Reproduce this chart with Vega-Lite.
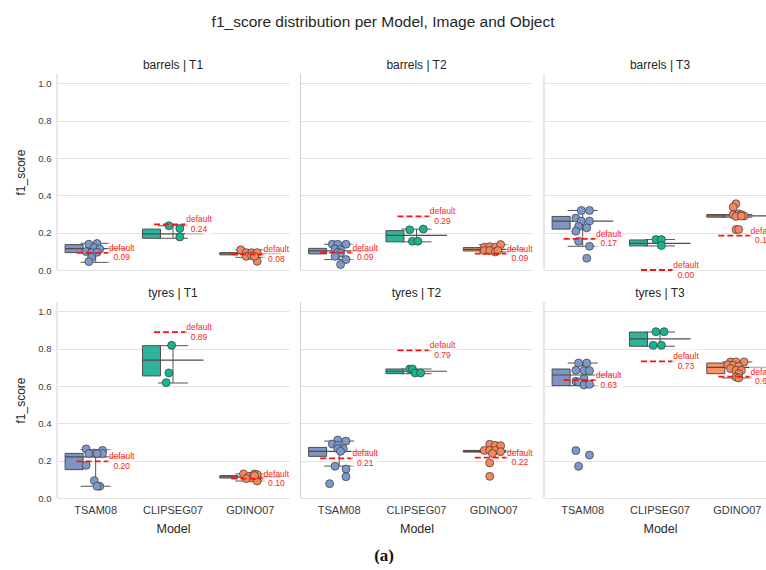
{
  "$schema": "https://vega.github.io/schema/vega-lite/v6.json",
  "padding": {"left": 14, "top": 15, "right": 0, "bottom": 0},
  "background": "white",
  "title": {"text": "f1_score distribution per Model, Image and Object", "fontSize": 15.5, "font": "Liberation Sans", "fontWeight": "normal", "color": "#262626", "anchor": "middle", "offset": 28, "dx": -13},
  "vconcat": [
    {
      "data": {"values": [
        {"kind":"pt","panel":"barrels | T1","model":"TSAM08","run":4,"f1":0.138},
        {"kind":"pt","panel":"barrels | T1","model":"TSAM08","run":7,"f1":0.142},
        {"kind":"pt","panel":"barrels | T1","model":"TSAM08","run":6,"f1":0.120},
        {"kind":"pt","panel":"barrels | T1","model":"TSAM08","run":8,"f1":0.113},
        {"kind":"pt","panel":"barrels | T1","model":"TSAM08","run":3,"f1":0.099},
        {"kind":"pt","panel":"barrels | T1","model":"TSAM08","run":5,"f1":0.093},
        {"kind":"pt","panel":"barrels | T1","model":"TSAM08","run":7,"f1":0.095},
        {"kind":"pt","panel":"barrels | T1","model":"TSAM08","run":5,"f1":0.068},
        {"kind":"pt","panel":"barrels | T1","model":"TSAM08","run":4,"f1":0.045},
        {"kind":"pt","panel":"barrels | T1","model":"CLIPSEG07","run":5,"f1":0.237},
        {"kind":"pt","panel":"barrels | T1","model":"CLIPSEG07","run":9,"f1":0.222},
        {"kind":"pt","panel":"barrels | T1","model":"CLIPSEG07","run":9,"f1":0.177},
        {"kind":"pt","panel":"barrels | T1","model":"GDINO07","run":3,"f1":0.108},
        {"kind":"pt","panel":"barrels | T1","model":"GDINO07","run":5,"f1":0.093},
        {"kind":"pt","panel":"barrels | T1","model":"GDINO07","run":7,"f1":0.093},
        {"kind":"pt","panel":"barrels | T1","model":"GDINO07","run":9,"f1":0.093},
        {"kind":"pt","panel":"barrels | T1","model":"GDINO07","run":5,"f1":0.073},
        {"kind":"pt","panel":"barrels | T1","model":"GDINO07","run":7,"f1":0.077},
        {"kind":"pt","panel":"barrels | T1","model":"GDINO07","run":9,"f1":0.047},
        {"kind":"pt","panel":"barrels | T1","model":"GDINO07","run":8,"f1":0.073},

        {"kind":"pt","panel":"barrels | T2","model":"TSAM08","run":4,"f1":0.138},
        {"kind":"pt","panel":"barrels | T2","model":"TSAM08","run":6,"f1":0.138},
        {"kind":"pt","panel":"barrels | T2","model":"TSAM08","run":9,"f1":0.138},
        {"kind":"pt","panel":"barrels | T2","model":"TSAM08","run":5,"f1":0.113},
        {"kind":"pt","panel":"barrels | T2","model":"TSAM08","run":7,"f1":0.109},
        {"kind":"pt","panel":"barrels | T2","model":"TSAM08","run":6,"f1":0.095},
        {"kind":"pt","panel":"barrels | T2","model":"TSAM08","run":7,"f1":0.090},
        {"kind":"pt","panel":"barrels | T2","model":"TSAM08","run":5,"f1":0.073},
        {"kind":"pt","panel":"barrels | T2","model":"TSAM08","run":9,"f1":0.056},
        {"kind":"pt","panel":"barrels | T2","model":"TSAM08","run":7,"f1":0.029},
        {"kind":"pt","panel":"barrels | T2","model":"CLIPSEG07","run":4,"f1":0.215},
        {"kind":"pt","panel":"barrels | T2","model":"CLIPSEG07","run":9,"f1":0.219},
        {"kind":"pt","panel":"barrels | T2","model":"CLIPSEG07","run":5,"f1":0.154},
        {"kind":"pt","panel":"barrels | T2","model":"CLIPSEG07","run":7,"f1":0.154},
        {"kind":"pt","panel":"barrels | T2","model":"GDINO07","run":3,"f1":0.122},
        {"kind":"pt","panel":"barrels | T2","model":"GDINO07","run":5,"f1":0.125},
        {"kind":"pt","panel":"barrels | T2","model":"GDINO07","run":7,"f1":0.122},
        {"kind":"pt","panel":"barrels | T2","model":"GDINO07","run":9,"f1":0.136},
        {"kind":"pt","panel":"barrels | T2","model":"GDINO07","run":3,"f1":0.104},
        {"kind":"pt","panel":"barrels | T2","model":"GDINO07","run":5,"f1":0.104},
        {"kind":"pt","panel":"barrels | T2","model":"GDINO07","run":7,"f1":0.097},
        {"kind":"pt","panel":"barrels | T2","model":"GDINO07","run":8,"f1":0.104},

        {"kind":"pt","panel":"barrels | T3","model":"TSAM08","run":6,"f1":0.319},
        {"kind":"pt","panel":"barrels | T3","model":"TSAM08","run":9,"f1":0.319},
        {"kind":"pt","panel":"barrels | T3","model":"TSAM08","run":4,"f1":0.278},
        {"kind":"pt","panel":"barrels | T3","model":"TSAM08","run":6,"f1":0.262},
        {"kind":"pt","panel":"barrels | T3","model":"TSAM08","run":9,"f1":0.262},
        {"kind":"pt","panel":"barrels | T3","model":"TSAM08","run":5,"f1":0.233},
        {"kind":"pt","panel":"barrels | T3","model":"TSAM08","run":8,"f1":0.226},
        {"kind":"pt","panel":"barrels | T3","model":"TSAM08","run":4,"f1":0.208},
        {"kind":"pt","panel":"barrels | T3","model":"TSAM08","run":5,"f1":0.154},
        {"kind":"pt","panel":"barrels | T3","model":"TSAM08","run":9,"f1":0.127},
        {"kind":"pt","panel":"barrels | T3","model":"TSAM08","run":8,"f1":0.063},
        {"kind":"pt","panel":"barrels | T3","model":"CLIPSEG07","run":5,"f1":0.163},
        {"kind":"pt","panel":"barrels | T3","model":"CLIPSEG07","run":7,"f1":0.163},
        {"kind":"pt","panel":"barrels | T3","model":"CLIPSEG07","run":7,"f1":0.131},
        {"kind":"pt","panel":"barrels | T3","model":"GDINO07","run":6,"f1":0.355},
        {"kind":"pt","panel":"barrels | T3","model":"GDINO07","run":5,"f1":0.337},
        {"kind":"pt","panel":"barrels | T3","model":"GDINO07","run":5,"f1":0.296},
        {"kind":"pt","panel":"barrels | T3","model":"GDINO07","run":7,"f1":0.301},
        {"kind":"pt","panel":"barrels | T3","model":"GDINO07","run":8,"f1":0.296},
        {"kind":"pt","panel":"barrels | T3","model":"GDINO07","run":9,"f1":0.289},
        {"kind":"pt","panel":"barrels | T3","model":"GDINO07","run":6,"f1":0.287},
        {"kind":"pt","panel":"barrels | T3","model":"GDINO07","run":8,"f1":0.289},
        {"kind":"pt","panel":"barrels | T3","model":"GDINO07","run":6,"f1":0.217},
        {"kind":"pt","panel":"barrels | T3","model":"GDINO07","run":7,"f1":0.217},

        {"kind":"pt","panel":"tyres | T1","model":"TSAM08","run":3,"f1":0.263},
        {"kind":"pt","panel":"tyres | T1","model":"TSAM08","run":6,"f1":0.241},
        {"kind":"pt","panel":"tyres | T1","model":"TSAM08","run":4,"f1":0.238},
        {"kind":"pt","panel":"tyres | T1","model":"TSAM08","run":9,"f1":0.255},
        {"kind":"pt","panel":"tyres | T1","model":"TSAM08","run":9,"f1":0.238},
        {"kind":"pt","panel":"tyres | T1","model":"TSAM08","run":7,"f1":0.238},
        {"kind":"pt","panel":"tyres | T1","model":"TSAM08","run":3,"f1":0.175},
        {"kind":"pt","panel":"tyres | T1","model":"TSAM08","run":6,"f1":0.093},
        {"kind":"pt","panel":"tyres | T1","model":"TSAM08","run":8,"f1":0.063},
        {"kind":"pt","panel":"tyres | T1","model":"TSAM08","run":7,"f1":0.063},
        {"kind":"pt","panel":"tyres | T1","model":"CLIPSEG07","run":6,"f1":0.818},
        {"kind":"pt","panel":"tyres | T1","model":"CLIPSEG07","run":5,"f1":0.670},
        {"kind":"pt","panel":"tyres | T1","model":"CLIPSEG07","run":4,"f1":0.618},
        {"kind":"pt","panel":"tyres | T1","model":"GDINO07","run":4,"f1":0.129},
        {"kind":"pt","panel":"tyres | T1","model":"GDINO07","run":6,"f1":0.116},
        {"kind":"pt","panel":"tyres | T1","model":"GDINO07","run":8,"f1":0.129},
        {"kind":"pt","panel":"tyres | T1","model":"GDINO07","run":9,"f1":0.125},
        {"kind":"pt","panel":"tyres | T1","model":"GDINO07","run":7,"f1":0.107},
        {"kind":"pt","panel":"tyres | T1","model":"GDINO07","run":5,"f1":0.104},
        {"kind":"pt","panel":"tyres | T1","model":"GDINO07","run":9,"f1":0.091},
        {"kind":"pt","panel":"tyres | T1","model":"GDINO07","run":8,"f1":0.120},

        {"kind":"pt","panel":"tyres | T2","model":"TSAM08","run":6,"f1":0.311},
        {"kind":"pt","panel":"tyres | T2","model":"TSAM08","run":9,"f1":0.305},
        {"kind":"pt","panel":"tyres | T2","model":"TSAM08","run":4,"f1":0.289},
        {"kind":"pt","panel":"tyres | T2","model":"TSAM08","run":6,"f1":0.282},
        {"kind":"pt","panel":"tyres | T2","model":"TSAM08","run":8,"f1":0.264},
        {"kind":"pt","panel":"tyres | T2","model":"TSAM08","run":6,"f1":0.264},
        {"kind":"pt","panel":"tyres | T2","model":"TSAM08","run":7,"f1":0.250},
        {"kind":"pt","panel":"tyres | T2","model":"TSAM08","run":5,"f1":0.170},
        {"kind":"pt","panel":"tyres | T2","model":"TSAM08","run":9,"f1":0.155},
        {"kind":"pt","panel":"tyres | T2","model":"TSAM08","run":9,"f1":0.114},
        {"kind":"pt","panel":"tyres | T2","model":"TSAM08","run":3,"f1":0.077},
        {"kind":"pt","panel":"tyres | T2","model":"CLIPSEG07","run":4,"f1":0.691},
        {"kind":"pt","panel":"tyres | T2","model":"CLIPSEG07","run":5,"f1":0.691},
        {"kind":"pt","panel":"tyres | T2","model":"CLIPSEG07","run":6,"f1":0.670},
        {"kind":"pt","panel":"tyres | T2","model":"CLIPSEG07","run":8,"f1":0.670},
        {"kind":"pt","panel":"tyres | T2","model":"GDINO07","run":5,"f1":0.288},
        {"kind":"pt","panel":"tyres | T2","model":"GDINO07","run":7,"f1":0.282},
        {"kind":"pt","panel":"tyres | T2","model":"GDINO07","run":9,"f1":0.280},
        {"kind":"pt","panel":"tyres | T2","model":"GDINO07","run":3,"f1":0.255},
        {"kind":"pt","panel":"tyres | T2","model":"GDINO07","run":5,"f1":0.255},
        {"kind":"pt","panel":"tyres | T2","model":"GDINO07","run":7,"f1":0.255},
        {"kind":"pt","panel":"tyres | T2","model":"GDINO07","run":9,"f1":0.248},
        {"kind":"pt","panel":"tyres | T2","model":"GDINO07","run":6,"f1":0.238},
        {"kind":"pt","panel":"tyres | T2","model":"GDINO07","run":5,"f1":0.188},
        {"kind":"pt","panel":"tyres | T2","model":"GDINO07","run":5,"f1":0.116},

        {"kind":"pt","panel":"tyres | T3","model":"TSAM08","run":5,"f1":0.723},
        {"kind":"pt","panel":"tyres | T3","model":"TSAM08","run":8,"f1":0.723},
        {"kind":"pt","panel":"tyres | T3","model":"TSAM08","run":4,"f1":0.684},
        {"kind":"pt","panel":"tyres | T3","model":"TSAM08","run":7,"f1":0.682},
        {"kind":"pt","panel":"tyres | T3","model":"TSAM08","run":9,"f1":0.682},
        {"kind":"pt","panel":"tyres | T3","model":"TSAM08","run":7,"f1":0.639},
        {"kind":"pt","panel":"tyres | T3","model":"TSAM08","run":4,"f1":0.625},
        {"kind":"pt","panel":"tyres | T3","model":"TSAM08","run":5,"f1":0.621},
        {"kind":"pt","panel":"tyres | T3","model":"TSAM08","run":7,"f1":0.605},
        {"kind":"pt","panel":"tyres | T3","model":"TSAM08","run":9,"f1":0.609},
        {"kind":"pt","panel":"tyres | T3","model":"TSAM08","run":4,"f1":0.254},
        {"kind":"pt","panel":"tyres | T3","model":"TSAM08","run":9,"f1":0.230},
        {"kind":"pt","panel":"tyres | T3","model":"TSAM08","run":5,"f1":0.170},
        {"kind":"pt","panel":"tyres | T3","model":"CLIPSEG07","run":5,"f1":0.891},
        {"kind":"pt","panel":"tyres | T3","model":"CLIPSEG07","run":8,"f1":0.891},
        {"kind":"pt","panel":"tyres | T3","model":"CLIPSEG07","run":4,"f1":0.818},
        {"kind":"pt","panel":"tyres | T3","model":"CLIPSEG07","run":7,"f1":0.818},
        {"kind":"pt","panel":"tyres | T3","model":"GDINO07","run":4,"f1":0.729},
        {"kind":"pt","panel":"tyres | T3","model":"GDINO07","run":6,"f1":0.729},
        {"kind":"pt","panel":"tyres | T3","model":"GDINO07","run":9,"f1":0.729},
        {"kind":"pt","panel":"tyres | T3","model":"GDINO07","run":3,"f1":0.714},
        {"kind":"pt","panel":"tyres | T3","model":"GDINO07","run":5,"f1":0.711},
        {"kind":"pt","panel":"tyres | T3","model":"GDINO07","run":7,"f1":0.705},
        {"kind":"pt","panel":"tyres | T3","model":"GDINO07","run":4,"f1":0.693},
        {"kind":"pt","panel":"tyres | T3","model":"GDINO07","run":6,"f1":0.684},
        {"kind":"pt","panel":"tyres | T3","model":"GDINO07","run":8,"f1":0.684},
        {"kind":"pt","panel":"tyres | T3","model":"GDINO07","run":7,"f1":0.666},
        {"kind":"pt","panel":"tyres | T3","model":"GDINO07","run":6,"f1":0.648},
        {"kind":"pt","panel":"tyres | T3","model":"GDINO07","run":7,"f1":0.643},

        {"kind":"box","panel":"barrels | T1","model":"TSAM08","lo":0.041,"q1":0.093,"med":0.115,"q3":0.136,"hi":0.143},
        {"kind":"box","panel":"barrels | T1","model":"CLIPSEG07","lo":0.170,"q1":0.170,"med":0.194,"q3":0.219,"hi":0.237},
        {"kind":"box","panel":"barrels | T1","model":"GDINO07","lo":0.068,"q1":0.081,"med":0.087,"q3":0.093,"hi":0.108},
        {"kind":"box","panel":"barrels | T2","model":"TSAM08","lo":0.056,"q1":0.086,"med":0.102,"q3":0.116,"hi":0.138},
        {"kind":"box","panel":"barrels | T2","model":"CLIPSEG07","lo":0.151,"q1":0.151,"med":0.185,"q3":0.211,"hi":0.219},
        {"kind":"box","panel":"barrels | T2","model":"GDINO07","lo":0.097,"q1":0.102,"med":0.111,"q3":0.120,"hi":0.136},
        {"kind":"box","panel":"barrels | T3","model":"TSAM08","lo":0.127,"q1":0.219,"med":0.262,"q3":0.287,"hi":0.319},
        {"kind":"box","panel":"barrels | T3","model":"CLIPSEG07","lo":0.129,"q1":0.129,"med":0.143,"q3":0.161,"hi":0.163},
        {"kind":"box","panel":"barrels | T3","model":"GDINO07","lo":0.283,"q1":0.283,"med":0.290,"q3":0.297,"hi":0.297},
        {"kind":"box","panel":"tyres | T1","model":"TSAM08","lo":0.063,"q1":0.152,"med":0.220,"q3":0.239,"hi":0.259},
        {"kind":"box","panel":"tyres | T1","model":"CLIPSEG07","lo":0.616,"q1":0.654,"med":0.739,"q3":0.816,"hi":0.816},
        {"kind":"box","panel":"tyres | T1","model":"GDINO07","lo":0.091,"q1":0.107,"med":0.113,"q3":0.120,"hi":0.129},
        {"kind":"box","panel":"tyres | T2","model":"TSAM08","lo":0.171,"q1":0.223,"med":0.250,"q3":0.271,"hi":0.305},
        {"kind":"box","panel":"tyres | T2","model":"CLIPSEG07","lo":0.666,"q1":0.666,"med":0.679,"q3":0.691,"hi":0.691},
        {"kind":"box","panel":"tyres | T2","model":"GDINO07","lo":0.246,"q1":0.246,"med":0.250,"q3":0.255,"hi":0.255},
        {"kind":"box","panel":"tyres | T3","model":"TSAM08","lo":0.602,"q1":0.602,"med":0.659,"q3":0.691,"hi":0.723},
        {"kind":"box","panel":"tyres | T3","model":"CLIPSEG07","lo":0.813,"q1":0.813,"med":0.852,"q3":0.889,"hi":0.889},
        {"kind":"box","panel":"tyres | T3","model":"GDINO07","lo":0.643,"q1":0.666,"med":0.700,"q3":0.723,"hi":0.729},

        {"kind":"def","panel":"barrels | T1","model":"TSAM08","def":0.092},
        {"kind":"def","panel":"barrels | T1","model":"CLIPSEG07","def":0.244},
        {"kind":"def","panel":"barrels | T1","model":"GDINO07","def":0.084},
        {"kind":"def","panel":"barrels | T2","model":"TSAM08","def":0.093},
        {"kind":"def","panel":"barrels | T2","model":"CLIPSEG07","def":0.287},
        {"kind":"def","panel":"barrels | T2","model":"GDINO07","def":0.088},
        {"kind":"def","panel":"barrels | T3","model":"TSAM08","def":0.167},
        {"kind":"def","panel":"barrels | T3","model":"CLIPSEG07","def":0.0},
        {"kind":"def","panel":"barrels | T3","model":"GDINO07","def":0.184},
        {"kind":"def","panel":"tyres | T1","model":"TSAM08","def":0.196},
        {"kind":"def","panel":"tyres | T1","model":"CLIPSEG07","def":0.889},
        {"kind":"def","panel":"tyres | T1","model":"GDINO07","def":0.104},
        {"kind":"def","panel":"tyres | T2","model":"TSAM08","def":0.212},
        {"kind":"def","panel":"tyres | T2","model":"CLIPSEG07","def":0.791},
        {"kind":"def","panel":"tyres | T2","model":"GDINO07","def":0.216},
        {"kind":"def","panel":"tyres | T3","model":"TSAM08","def":0.632},
        {"kind":"def","panel":"tyres | T3","model":"CLIPSEG07","def":0.732},
        {"kind":"def","panel":"tyres | T3","model":"GDINO07","def":0.650}
      ]},
      "title": {"text": "(a)", "orient": "bottom", "font": "Liberation Serif", "fontSize": 17, "fontWeight": "bold", "color": "#111", "anchor": "middle", "offset": 13, "dx": -12},
      "facet": {"field": "panel", "type": "nominal", "sort": ["barrels | T1", "barrels | T2", "barrels | T3", "tyres | T1", "tyres | T2", "tyres | T3"], "header": {"title": null, "labelFontSize": 12, "labelFont": "Liberation Sans", "labelColor": "#262626", "labelPadding": 2}},
      "columns": 3,
      "bounds": "flush",
      "spacing": {"column": 11.5, "row": 32},
      "spec": {
        "width": 232,
        "height": 196,
        "encoding": {
          "x": {"field": "model", "type": "nominal", "sort": ["TSAM08", "CLIPSEG07", "GDINO07"], "title": "Model", "scale": {"paddingInner": 0, "paddingOuter": 0}}
        },
        "layer": [
          {
            "transform": [{"filter": "datum.kind === 'box'"}],
            "mark": {"type": "rule", "color": "#555555", "strokeWidth": 1},
            "encoding": {
              "y": {"field": "lo", "type": "quantitative", "title": "f1_score", "scale": {"domain": [0, 1.05], "nice": false, "zero": false}, "axis": {"values": [0, 0.2, 0.4, 0.6, 0.8, 1.0], "format": ".1f"}},
              "y2": {"field": "hi"}
            }
          },
          {
            "transform": [{"filter": "datum.kind === 'box'"}],
            "mark": {"type": "rule", "color": "#555555", "strokeWidth": 1, "xOffset": -15, "x2Offset": 15},
            "encoding": {"x2": {"field": "model"}, "y": {"field": "lo", "type": "quantitative", "title": "f1_score", "axis": {"values": [0, 0.2, 0.4, 0.6, 0.8, 1.0], "format": ".1f"}}}
          },
          {
            "transform": [{"filter": "datum.kind === 'box'"}],
            "mark": {"type": "rule", "color": "#555555", "strokeWidth": 1, "xOffset": -15, "x2Offset": 15},
            "encoding": {"x2": {"field": "model"}, "y": {"field": "hi", "type": "quantitative", "title": "f1_score", "axis": {"values": [0, 0.2, 0.4, 0.6, 0.8, 1.0], "format": ".1f"}}}
          },
          {
            "transform": [{"filter": "datum.kind === 'box'"}],
            "mark": {"type": "bar", "stroke": "#4d4d4d", "strokeWidth": 1, "width": {"band": 0.79}},
            "encoding": {
              "y": {"field": "q1", "type": "quantitative", "title": "f1_score", "axis": {"values": [0, 0.2, 0.4, 0.6, 0.8, 1.0], "format": ".1f"}},
              "y2": {"field": "q3"},
              "fill": {"field": "model", "type": "nominal", "scale": {"domain": ["TSAM08", "CLIPSEG07", "GDINO07"], "range": ["#8094c1", "#30b39b", "#f8936a"]}, "legend": null}
            }
          },
          {
            "transform": [{"filter": "datum.kind === 'box'"}],
            "mark": {"type": "rule", "color": "#4d4d4d", "strokeWidth": 1.2, "xOffset": -30.5, "x2Offset": 30.5},
            "encoding": {"x2": {"field": "model"}, "y": {"field": "med", "type": "quantitative", "title": "f1_score", "axis": {"values": [0, 0.2, 0.4, 0.6, 0.8, 1.0], "format": ".1f"}}}
          },
          {
            "transform": [{"filter": "datum.kind === 'def' && datum.model === 'TSAM08'"}],
            "mark": {"type": "rule", "color": "#d0d0d0", "strokeWidth": 1},
            "encoding": {"x": {"datum": "TSAM08", "type": "nominal", "bandPosition": 0}}
          },
          {
            "transform": [{"filter": "datum.kind === 'pt'"}],
            "mark": {"type": "circle", "size": 64, "stroke": "#3a3a3a", "strokeWidth": 0.7, "opacity": 1},
            "encoding": {
              "xOffset": {"field": "run", "type": "ordinal", "scale": {"domain": [1,2,3,4,5,6,7,8,9,10,11,12], "range": [23.67, 53.67], "paddingInner": 0, "paddingOuter": 0}},
              "y": {"field": "f1", "type": "quantitative", "title": "f1_score", "axis": {"values": [0, 0.2, 0.4, 0.6, 0.8, 1.0], "format": ".1f"}},
              "color": {"field": "model", "type": "nominal", "scale": {"domain": ["TSAM08", "CLIPSEG07", "GDINO07"], "range": ["#7d98cc", "#17b48e", "#f6875b"]}, "legend": null}
            }
          },
          {
            "transform": [{"filter": "datum.kind === 'def'"}],
            "mark": {"type": "rule", "color": "#ff1010", "strokeWidth": 1.8, "strokeDash": [6, 3], "xOffset": -19, "x2Offset": 16},
            "encoding": {
              "x2": {"field": "model"},
              "y": {"field": "def", "type": "quantitative", "title": "f1_score", "axis": {"values": [0, 0.2, 0.4, 0.6, 0.8, 1.0], "format": ".1f"}}
            }
          },
          {
            "transform": [{"filter": "datum.kind === 'def'"}],
            "mark": {"type": "point", "shape": "M-1,-0.86L1,-0.86L1,0.86L-1,0.86Z", "filled": true, "color": "white", "opacity": 0.6, "size": 784, "xOffset": 26, "strokeWidth": 0},
            "encoding": {"y": {"field": "def", "type": "quantitative", "title": "f1_score", "axis": {"values": [0, 0.2, 0.4, 0.6, 0.8, 1.0], "format": ".1f"}}}
          },
          {
            "transform": [{"filter": "datum.kind === 'def'"}],
            "mark": {"type": "text", "color": "#ff1a1a", "fontSize": 8.5, "font": "Liberation Sans", "dx": 26, "dy": -5, "align": "center", "baseline": "middle"},
            "encoding": {
              "y": {"field": "def", "type": "quantitative", "title": "f1_score", "axis": {"values": [0, 0.2, 0.4, 0.6, 0.8, 1.0], "format": ".1f"}},
              "text": {"value": "default"}
            }
          },
          {
            "transform": [{"filter": "datum.kind === 'def'"}],
            "mark": {"type": "text", "color": "#ff1a1a", "fontSize": 8.5, "font": "Liberation Sans", "dx": 26, "dy": 4.5, "align": "center", "baseline": "middle"},
            "encoding": {
              "y": {"field": "def", "type": "quantitative", "title": "f1_score", "axis": {"values": [0, 0.2, 0.4, 0.6, 0.8, 1.0], "format": ".1f"}},
              "text": {"field": "def", "type": "quantitative", "format": ".2f"}
            }
          }
        ]
      }
    }
  ],
  "config": {
    "view": {"stroke": null},
    "font": "Liberation Sans",
    "axis": {"gridColor": "#e2e2e2", "gridWidth": 1, "domain": false, "ticks": false, "labelFont": "Liberation Sans", "titleFont": "Liberation Sans", "labelColor": "#3a3a3a", "titleColor": "#262626", "titleFontWeight": "normal"},
    "axisX": {"grid": false, "labelFontSize": 11, "titleFontSize": 12.5, "labelPadding": 6, "titlePadding": 7, "labelAngle": 0},
    "axisY": {"labelFontSize": 9.5, "titleFontSize": 12, "labelPadding": 6, "titlePadding": 10}
  }
}
